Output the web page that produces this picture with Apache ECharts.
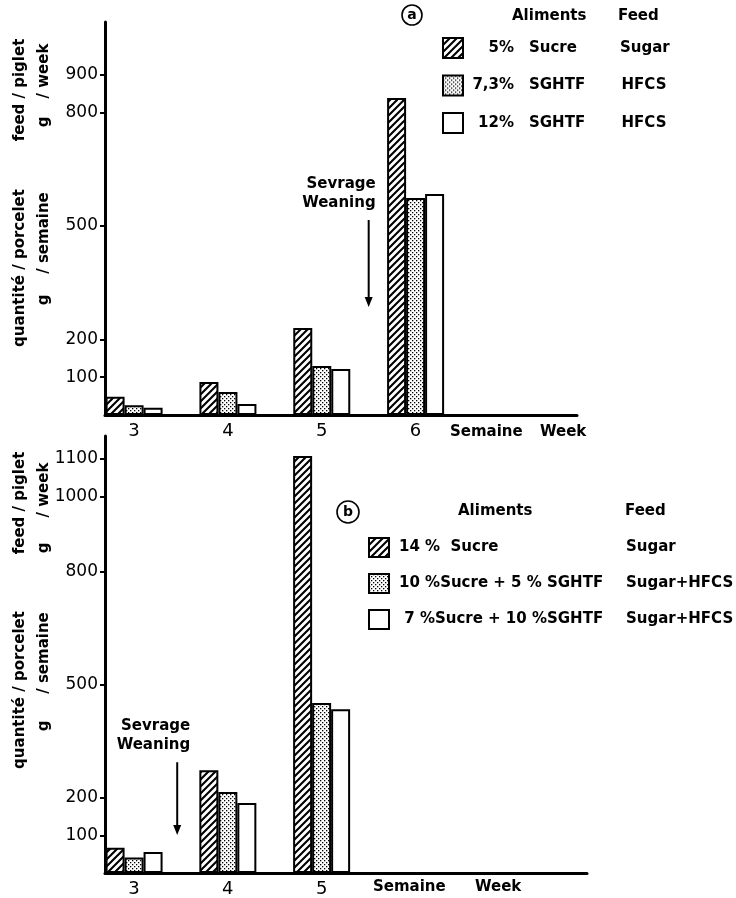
<!DOCTYPE html>
<html><head><meta charset="utf-8">
<script src="https://cdn.jsdelivr.net/npm/echarts@6/dist/echarts.min.js"></script>
<style>html,body{margin:0;padding:0;background:#fff}#c{width:736px;height:898px}</style>
</head><body><div id="c"></div>
<script>
// ---- data ----
const weeksA = [3, 4, 5, 6];
const sugar5A = [48, 87, 230, 839];
const hfcs73A = [26, 61, 130, 574];
const hfcs12A = [19, 29, 122, 585];
const weeksB = [3, 4, 5];
const sugar14B = [67, 273, 1107];
const mix105B = [41, 215, 451];
const mix710B = [56, 186, 435];
const yTicksA = [100, 200, 500, 800, 900];
const yTicksB = [100, 200, 500, 800, 1000, 1100];
const pctA = ['5%', '7,3%', '12%'];
const prodA = ['Sucre', 'SGHTF', 'SGHTF'];
const feedA = ['Sugar', 'HFCS', 'HFCS'];
const namesB = ['14 %  Sucre', '10 %Sucre + 5 % SGHTF', ' 7 %Sucre + 10 %SGHTF'];
const feedB = ['Sugar', 'Sugar+HFCS', 'Sugar+HFCS'];
const weaningA = {week: 5.5, from: 516, to: 286};
const weaningB = {week: 3.46, from: 294, to: 101};

const FONT = 'DejaVu Sans';
const FONTCSS = 'bold 15px "DejaVu Sans"';
const namesA = pctA.map((p, i) => p + ' ' + prodA[i]);

const mctx = document.createElement('canvas').getContext('2d');
mctx.font = FONTCSS;
const measure = s => mctx.measureText(s).width;

function hatchPattern() {
  const s = 7, c = document.createElement('canvas');
  c.width = s; c.height = s;
  const g = c.getContext('2d');
  g.fillStyle = '#fff'; g.fillRect(0, 0, s, s);
  g.strokeStyle = '#000'; g.lineWidth = 2.1;
  g.beginPath();
  for (const k of [0, s, 2 * s]) { g.moveTo(-1, k + 1); g.lineTo(k + 1, -1); }
  g.stroke();
  return {image: c, repeat: 'repeat'};
}
function dotPattern() {
  const s = 4, c = document.createElement('canvas');
  c.width = s; c.height = s;
  const g = c.getContext('2d');
  g.fillStyle = '#fff'; g.fillRect(0, 0, s, s);
  g.fillStyle = '#000';
  g.fillRect(0, 0, 1.3, 1.3); g.fillRect(2, 2, 1.3, 1.3);
  return {image: c, repeat: 'repeat'};
}
const fills = [hatchPattern(), dotPattern(), '#fff'];

function bar(name, xs, ys, k, gi) {
  return {
    name, type: 'bar', xAxisIndex: gi, yAxisIndex: gi,
    data: xs.map((x, i) => [x, ys[i]]),
    barWidth: 19, barGap: '0%',
    itemStyle: {color: fills[k], borderColor: '#000', borderWidth: 2},
    emphasis: {disabled: true}, animation: false
  };
}

function xAxis(gi, max, ticks) {
  return {
    type: 'value', gridIndex: gi, min: 2.69, max,
    axisLine: {show: true, onZero: false, lineStyle: {color: '#000', width: 3}},
    axisTick: {show: false}, splitLine: {show: false},
    axisLabel: {customValues: ticks, formatter: v => String(v), color: '#000', fontSize: 18, fontFamily: FONT, margin: 7}
  };
}
function yAxis(gi, max, ticks) {
  return {
    type: 'value', gridIndex: gi, min: 0, max,
    axisLine: {show: true, onZero: false, lineStyle: {color: '#000', width: 3}},
    axisTick: {show: true, customValues: ticks, length: 5, lineStyle: {color: '#000', width: 2}},
    splitLine: {show: false},
    axisLabel: {customValues: ticks, formatter: v => String(v), color: '#000', fontSize: 17, fontFamily: FONT, margin: 7}
  };
}
const txt = {fontFamily: FONT, fontWeight: 'bold', fontSize: 15, color: '#000', lineHeight: 20};
const tk = extra => Object.assign({}, txt, extra);

// legend A rich styles: spacer before percentage (right-aligned percentages), spacer to center feed
const richA = {s: tk({width: 15}), p: tk({}), n: tk({width: 90})};
pctA.forEach((p, i) => {
  richA['g' + i] = tk({width: Math.max(1, 46 - measure(p))});
  richA['h' + i] = tk({width: Math.max(1, (50 - measure(feedA[i])) / 2)});
});
const richB = {s: tk({width: 5}), n: tk({width: 227}), f: tk({})};

const chart = echarts.init(document.getElementById('c'), null, {renderer: 'canvas'});
chart.setOption({
  backgroundColor: '#fff',
  animation: false,
  grid: [
    {left: 105, right: 159, top: 22, bottom: 483},
    {left: 105, right: 149, top: 436, bottom: 25}
  ],
  xAxis: [xAxis(0, 7.72, weeksA), xAxis(1, 7.83, weeksB)],
  yAxis: [yAxis(0, 1040, yTicksA), yAxis(1, 1160, yTicksB)],
  legend: [
    {
      data: namesA, orient: 'vertical', left: 442, top: 37, padding: 0,
      itemWidth: 20, itemHeight: 20, itemGap: 15.5, icon: 'rect', selectedMode: false,
      itemStyle: {borderColor: '#000', borderWidth: 2},
      formatter: n => { const i = namesA.indexOf(n); return '{g' + i + '| }{p|' + pctA[i] + '}{s| }{n|' + prodA[i] + '}{h' + i + '| }{p|' + feedA[i] + '}'; },
      textStyle: tk({rich: richA})
    },
    {
      data: namesB, orient: 'vertical', left: 368, top: 537, padding: 0,
      itemWidth: 20, itemHeight: 19, itemGap: 15, icon: 'rect', selectedMode: false,
      itemStyle: {borderColor: '#000', borderWidth: 2},
      formatter: n => { const i = namesB.indexOf(n); return '{s| }{n|' + namesB[i] + '}{f|' + feedB[i] + '}'; },
      textStyle: tk({rich: richB})
    }
  ],
  series: [
    bar(namesA[0], weeksA, sugar5A, 0, 0),
    bar(namesA[1], weeksA, hfcs73A, 1, 0),
    bar(namesA[2], weeksA, hfcs12A, 2, 0),
    bar(namesB[0], weeksB, sugar14B, 0, 1),
    bar(namesB[1], weeksB, mix105B, 1, 1),
    bar(namesB[2], weeksB, mix710B, 2, 1)
  ]
});

function T(text, x, y, extra) {
  return {type: 'text', x, y, style: Object.assign({text, fill: '#000', font: FONTCSS, align: 'left', verticalAlign: 'middle'}, extra || {})};
}
function VT(text, x, y) {
  return {type: 'text', x, y, rotation: Math.PI / 2, style: {text, fill: '#000', font: FONTCSS, align: 'center', verticalAlign: 'middle'}};
}
function circ(letter, cx, cy, r) {
  return [
    {type: 'circle', shape: {cx, cy, r}, style: {fill: 'none', stroke: '#000', lineWidth: 1.6}},
    T(letter, cx, cy, {align: 'center', font: 'bold 14px "DejaVu Sans"'})
  ];
}
function arrow(w, gi, dx) {
  const p1 = chart.convertToPixel({xAxisIndex: gi, yAxisIndex: gi}, [w.week, w.from]);
  const p2 = chart.convertToPixel({xAxisIndex: gi, yAxisIndex: gi}, [w.week, w.to]);
  return [
    {type: 'line', shape: {x1: p1[0], y1: p1[1], x2: p2[0], y2: p2[1] - 8}, style: {stroke: '#000', lineWidth: 2}},
    {type: 'polygon', shape: {points: [[p2[0] - 4, p2[1] - 10], [p2[0] + 4, p2[1] - 10], [p2[0], p2[1]]]}, style: {fill: '#000'}},
    T('Sevrage', p1[0] + dx, p1[1] - 36, {align: 'right'}),
    T('Weaning', p1[0] + dx, p1[1] - 17, {align: 'right'})
  ];
}

const g = [].concat(
  circ('a', 412, 15, 10),
  [T('Aliments', 512, 16), T('Feed', 618, 16)],
  circ('b', 348, 512, 11),
  [T('Aliments', 458, 511), T('Feed', 625, 511)],
  [VT('quantité / porcelet', 20, 268), VT('feed / piglet', 20, 90),
   VT('g', 44, 300), VT('/ semaine', 44, 233), VT('g', 44, 122), VT('/ week', 44, 71)],
  [VT('quantité / porcelet', 20, 690), VT('feed / piglet', 20, 503),
   VT('g', 44, 726), VT('/ semaine', 44, 653), VT('g', 44, 548), VT('/ week', 44, 490)],
  [T('Semaine', 450, 432), T('Week', 540, 432), T('Semaine', 373, 887), T('Week', 475, 887)],
  arrow(weaningA, 0, 7),
  arrow(weaningB, 1, 13)
);
chart.setOption({graphic: g});
</script></body></html>
